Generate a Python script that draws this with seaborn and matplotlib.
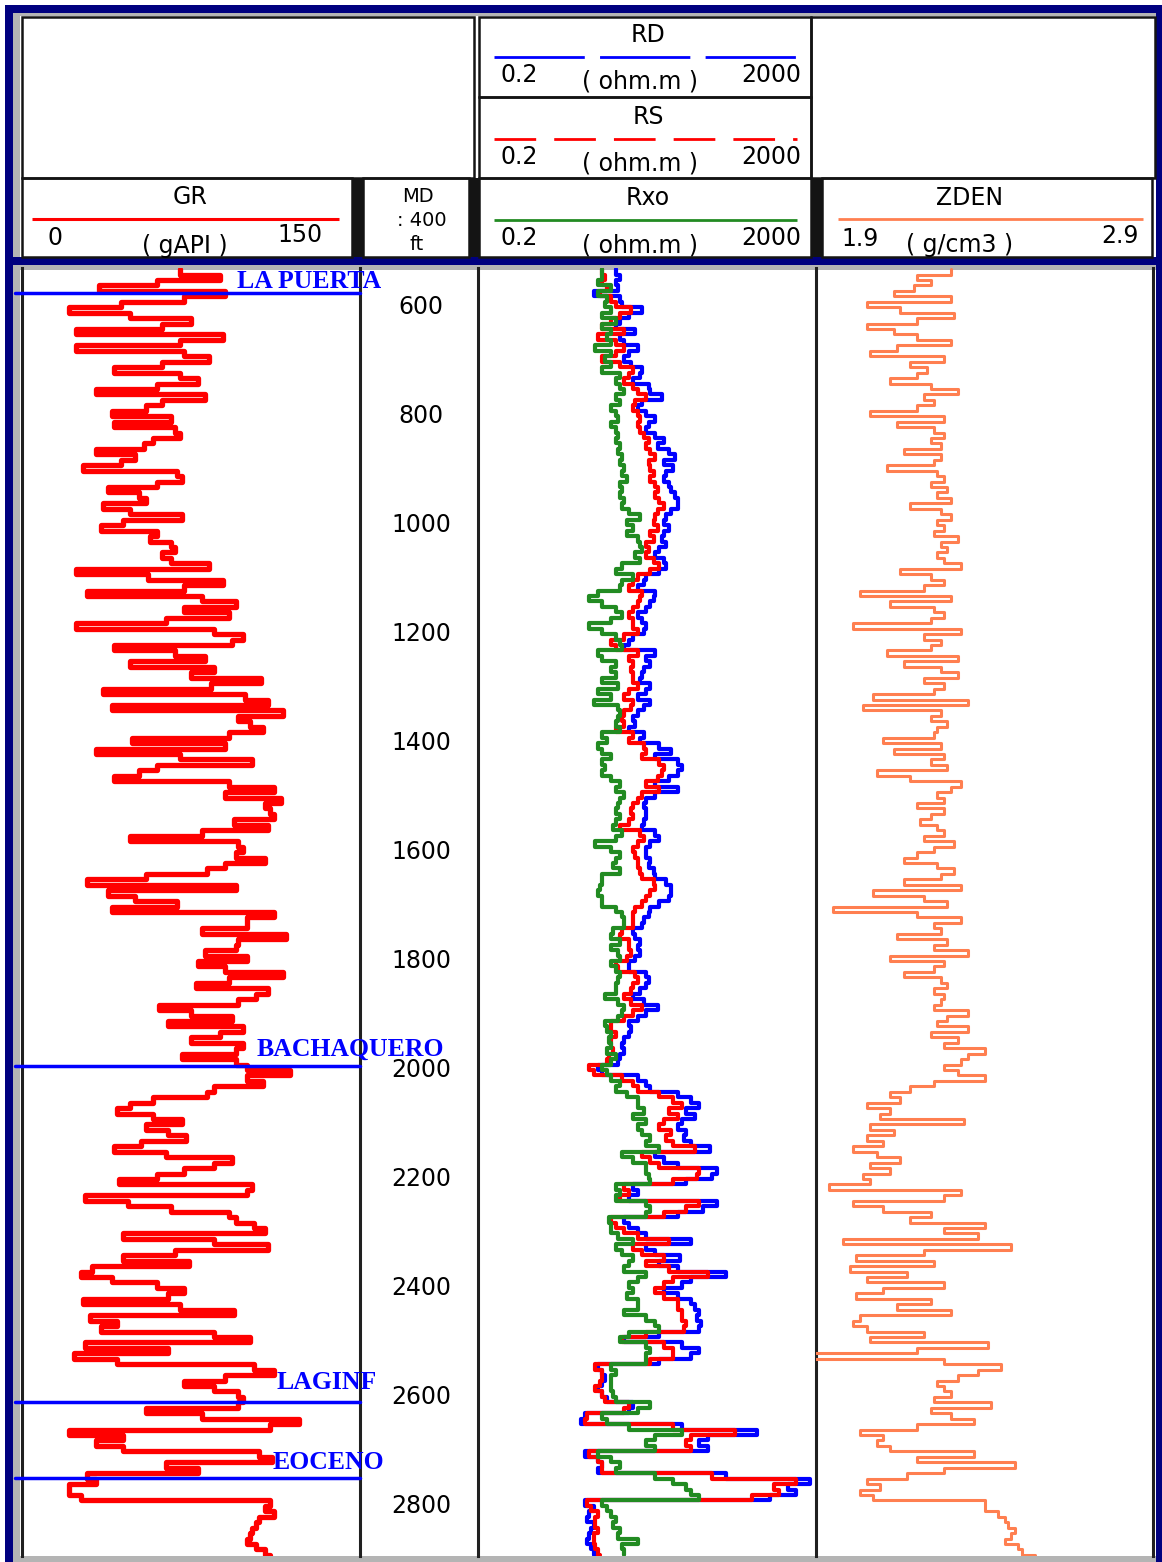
# %% Well log panel: GR, MD, RD/RS/Rxo, ZDEN with formation tops
import numpy as np
import pandas as pd
import matplotlib
matplotlib.use("Agg")
import matplotlib.pyplot as plt
import matplotlib.transforms as mtransforms
from matplotlib.patches import Rectangle
import seaborn as sns

sns.set_theme(style="white")
plt.rcParams['font.family'] = ['DejaVu Sans']
plt.rcParams['lines.scale_dashes'] = False

# %% Log data, every 10 ft from 530 ft
depth_start = 530
depth_step = 10

gr = [70, 88, 60, 34, 90, 72, 44, 21, 48, 75, 62, 24, 89, 70, 24, 72, 83, 62, 41, 70,
      78, 60, 33, 81, 62, 55, 40, 66, 41, 68, 70, 58, 54, 33, 50, 44, 27, 69, 71, 60,
      38, 52, 55, 36, 48, 71, 45,
      35, 60, 57, 66, 68, 62, 66, 83, 24, 56, 89, 72, 29, 80, 95, 72, 92, 64, 24, 85,
      98, 93, 41, 68, 81, 48, 85, 75, 106, 84, 36, 99, 109, 40, 116, 96, 101, 107, 92, 49,
      90, 33, 70, 102, 60, 52, 41, 92,
      112, 90, 115, 108, 110, 112, 94, 109, 80, 48, 96, 98, 95, 108, 90, 82, 55, 29, 95, 38,
      50, 69, 40, 112, 100, 100, 80, 117, 96, 95, 81, 100, 78, 90, 116, 92, 77, 109, 104, 96,
      61, 75, 93, 65, 98, 88, 75,
      98, 95, 71, 95, 100, 119, 100, 107, 85, 82, 58, 48, 42, 58, 71, 55, 65, 73, 53, 41,
      64, 93, 85, 72, 60, 43, 102, 100, 28, 47, 66, 92, 95, 103, 108, 45, 85, 109, 68, 45,
      74, 31, 26, 40, 60, 72, 65, 27,
      70, 94, 30, 42, 35, 85, 101, 28, 65, 23, 42, 103, 112, 90, 72, 85, 96, 98, 96, 55,
      80, 123, 110, 21, 45, 33, 45, 105, 111, 64, 78, 29, 33, 21, 21, 26, 110, 108, 112, 105,
      104, 102, 101, 100, 104, 108, 110]

rd = [8.5, 9.6, 8.5, 9.0, 4.7, 9.6, 10.2, 17.5, 12.2, 9.6, 8.5, 14.6, 9.6, 10.8, 15.5, 12.2,
      10.8, 13, 17.5, 16.5, 13.8, 21, 22, 30, 17.5, 15.5, 19.7, 25, 21, 19.7, 25, 32, 27, 36,
      43, 32, 41, 34, 32, 36, 38, 43, 46, 46, 38, 34, 32,
      36, 32, 30, 34, 28, 25, 32, 34, 28, 19.7, 18.6, 15.5, 25, 24, 22, 19.7, 15.5, 17.5, 19.7,
      18.6, 13.8, 12.2, 10.8, 25, 19.7, 22, 18.6, 17.5, 16.5, 22, 19.7, 15.5, 22, 18.6, 15.5,
      13.8, 14.6, 12.2, 18.6, 16.5, 28, 38, 25, 46, 52, 46, 36, 25,
      46, 25, 19.7, 18.6, 19.7, 19.7, 18.6, 17.5, 25, 28, 22, 19.7, 19.7, 22, 21, 24, 25, 34,
      38, 38, 36, 28, 22, 21, 18.6, 17.5, 13.8, 14.6, 16.5, 15.5, 16.5, 14.6, 12.2, 12.2, 19.7,
      21, 19.7, 16.5, 13.8, 18.6, 27, 19.7, 15.5, 12.2, 13, 12.2, 10.8,
      10.2, 10.8, 9.6, 9.0, 5.2, 5.9, 15.5, 19.7, 22, 46, 66, 83, 58, 74, 52, 46, 58, 55, 66,
      112, 25, 32, 46, 135, 119, 58, 13.8, 15.5, 12.2, 135, 93, 46, 10.8, 12.2, 15.5, 19.7, 66,
      19.7, 25, 49, 28, 46, 172, 66, 52, 32, 46, 66,
      74, 83, 78, 88, 83, 28, 10.8, 52, 83, 66, 28, 5.2, 5.9, 6.3, 5.9, 5.2, 5.9, 6.7, 13.8,
      12.2, 3.7, 3.3, 52, 398, 106, 83, 106, 3.7, 5.2, 5.9, 5.2, 172, 1690, 920, 1170, 570,
      3.7, 4.7, 4.1, 3.9, 4.7, 4.4, 4.1, 3.9, 4.4, 4.7, 4.9]

rs = [5.9, 6.3, 5.9, 6.7, 5.6, 7.5, 8.5, 13, 9.6, 7.5, 5.9, 10.8, 5.2, 8.5, 10.8, 8.5, 5.9,
      9.6, 13.8, 12.2, 10.8, 13.8, 15.5, 19.7, 14.6, 13.8, 15.5, 16.5, 15.5, 16.5, 18.6, 21,
      19.7, 22, 25, 21, 22, 24, 22, 25, 27, 25, 28, 32, 27, 25, 24,
      27, 22, 24, 19.7, 21, 19.7, 24, 28, 22, 15.5, 13.8, 12.2, 17.5, 16.5, 15.5, 13.8, 12.2,
      13.8, 13.8, 15.5, 10.8, 7.5, 8.5, 15.5, 12.2, 13.8, 13, 13.8, 13.8, 15.5, 12.2, 10.8,
      13.8, 13, 10.8, 10.2, 10.8, 8.5, 13.8, 12.2, 18.6, 19.7, 17.5, 28, 32, 30, 27, 19.7,
      28, 17.5, 15.5, 13.8, 13, 13.8, 12.2, 9.6, 16.5, 18.6, 15.5, 13.8, 14.6, 15.5, 15.5,
      16.5, 17.5, 24, 25, 22, 19.7, 17.5, 14.6, 13.8, 13.8, 13.8, 10.2, 9.6, 12.2, 12.2, 13,
      11.5, 8.5, 9.0, 14.6, 15.5, 13.8, 13, 10.8, 13, 17.5, 13.8, 10.8, 7.5, 7.5, 8.5, 7.5,
      7.5, 8.0, 7.1, 6.7, 4.1, 4.7, 10.2, 13.8, 15.5, 28, 41, 52, 36, 46, 32, 28, 38, 34, 41,
      74, 17.5, 22, 28, 83, 78, 41, 10.8, 12.2, 9.6, 83, 58, 32, 7.5, 8.5, 10.8, 15.5, 36,
      13.8, 17.5, 32, 19.7, 36, 106, 41, 32, 25, 32, 46,
      46, 52, 52, 58, 55, 19.7, 10.2, 32, 41, 41, 22, 4.9, 5.9, 5.9, 5.6, 4.9, 5.9, 6.3, 12.2,
      10.8, 3.9, 3.7, 41, 218, 66, 58, 66, 4.1, 5.2, 5.9, 5.9, 119, 1170, 640, 725, 350,
      3.9, 4.4, 5.2, 4.9, 4.9, 5.2, 4.7, 4.7, 4.9, 5.2, 5.6]

rxo = [5.9, 5.9, 5.2, 7.5, 5.2, 6.7, 6.3, 7.5, 5.9, 8.5, 5.9, 7.5, 6.7, 7.5, 4.9, 7.5, 6.3,
       7.5, 5.9, 9.6, 8.5, 9.6, 10.8, 8.5, 9.6, 7.5, 8.5, 9.0, 7.5, 8.5, 9.0, 8.5, 9.6, 9.0,
       10.2, 9.6, 10.8, 10.2, 11.5, 9.6, 10.2, 9.6, 10.8, 10.2, 12.2, 16.5, 11.5,
       13.8, 11.5, 15.5, 16.5, 17.5, 14.6, 16.5, 10.2, 8.5, 13.8, 10.2, 9.6, 5.2, 4.1, 5.9,
       8.5, 10.2, 7.5, 4.1, 5.9, 8.5, 9.6, 10.2, 5.2, 5.9, 8.5, 7.5, 8.5, 5.9, 9.0, 5.2, 7.5,
       4.7, 9.0, 9.6, 9.0, 8.5, 9.6, 5.9, 6.7, 5.2, 5.9, 7.5, 5.9, 6.3, 5.9, 7.5, 9.6,
       8.5, 10.8, 9.6, 9.0, 8.5, 9.6, 8.5, 8.0, 10.2, 8.5, 4.9, 7.5, 9.6, 8.5, 8.0, 9.6, 5.9,
       5.9, 5.6, 5.2, 5.9, 5.9, 8.5, 10.2, 10.8, 10.8, 8.0, 7.5, 9.6, 7.5, 9.0, 9.6, 7.5, 8.5,
       9.6, 9.0, 8.5, 8.5, 6.3, 9.0, 10.8, 10.2, 9.0, 6.3, 6.7, 7.5, 7.1,
       7.5, 6.7, 8.5, 7.5, 5.9, 6.7, 7.5, 9.6, 8.5, 11.5, 15.5, 15.5, 18.6, 13.8, 19.7, 15.5,
       17.5, 22, 19.7, 28, 10.2, 13.8, 19.7, 19.7, 21, 22, 8.5, 9.6, 8.5, 19.7, 22, 19.7, 7.1,
       7.5, 7.5, 9.0, 13.8, 8.5, 10.2, 13.8, 12.2, 10.8, 19.7, 15.5, 12.2, 13.8, 11.5, 15.5,
       15.5, 10.8, 19.7, 25, 28, 12.2, 9.6, 19.7, 22, 19.7, 19.7, 7.5, 8.5, 7.5, 7.5, 7.5,
       8.0, 8.5, 22, 15.5, 5.9, 6.7, 12.2, 52, 25, 19.7, 25, 5.2, 7.5, 9.6, 8.5, 25, 41, 58,
       66, 83, 5.9, 6.7, 7.5, 8.5, 8.0, 9.6, 9.0, 15.5, 10.2, 10.8, 10.8]

zden = [2.30, 2.20, 2.24, 2.19, 2.13, 2.30, 2.05, 2.15, 2.31, 2.20, 2.05, 2.13, 2.20, 2.30,
        2.14, 2.06, 2.28, 2.18, 2.23, 2.20, 2.12, 2.24, 2.32, 2.22, 2.25, 2.20, 2.06, 2.28,
        2.14, 2.25, 2.28, 2.24, 2.27, 2.16, 2.27, 2.25, 2.11, 2.26, 2.28, 2.24, 2.29, 2.26,
        2.30, 2.18, 2.27, 2.30, 2.26,
        2.28, 2.25, 2.32, 2.27, 2.29, 2.26, 2.28, 2.33, 2.15, 2.24, 2.28, 2.22, 2.03, 2.30,
        2.12, 2.25, 2.28, 2.24, 2.01, 2.33, 2.22, 2.27, 2.24, 2.11, 2.32, 2.16, 2.27, 2.32,
        2.22, 2.28, 2.25, 2.07, 2.35, 2.04, 2.27, 2.24, 2.29, 2.26, 2.25, 2.10, 2.27, 2.13,
        2.28, 2.24, 2.29, 2.08, 2.18, 2.33,
        2.30, 2.26, 2.28, 2.20, 2.28, 2.24, 2.21, 2.26, 2.28, 2.22, 2.31, 2.25, 2.20, 2.16,
        2.26, 2.31, 2.27, 2.16, 2.33, 2.07, 2.22, 2.29, 1.95, 2.20, 2.33, 2.25, 2.27, 2.14,
        2.29, 2.25, 2.35, 2.12, 2.28, 2.25, 2.16, 2.27, 2.29, 2.25, 2.28, 2.27, 2.25, 2.35,
        2.29, 2.26, 2.35, 2.24, 2.32,
        2.28, 2.40, 2.35, 2.33, 2.28, 2.32, 2.40, 2.25, 2.18, 2.12, 2.15, 2.05, 2.12, 2.09,
        2.34, 2.06, 2.13, 2.05, 2.10, 2.01, 2.08, 2.15, 2.06, 2.12, 2.04, 2.06, 1.94, 2.33,
        2.28, 2.01, 2.10, 2.24, 2.18, 2.40, 2.28, 2.38, 1.98, 2.48, 2.22, 2.02, 2.25, 2.00,
        2.17, 2.05, 2.28, 2.10, 2.02, 2.24,
        2.14, 2.30, 2.03, 2.01, 2.05, 2.22, 2.06, 2.41, 2.20, 1.88, 2.28, 2.45, 2.38, 2.32,
        2.26, 2.28, 2.30, 2.25, 2.42, 2.24, 2.30, 2.37, 2.20, 2.03, 2.10, 2.08, 2.12, 2.37,
        2.20, 2.49, 2.28, 2.17, 2.05, 2.09, 2.03, 2.07, 2.40, 2.40, 2.44, 2.46, 2.47, 2.49,
        2.48, 2.46, 2.50, 2.51, 2.55]

depth_ticks = [600, 800, 1000, 1200, 1400, 1600, 1800, 2000, 2200, 2400, 2600, 2800]
top_names = ['LA PUERTA', 'BACHAQUERO', 'LAGINF', 'EOCENO']
top_depths = [574, 1993, 2609, 2749]

logs = pd.DataFrame({'GR': gr, 'RD': rd, 'RS': rs, 'RXO': rxo, 'ZDEN': zden})
logs['DEPTH'] = depth_start + depth_step * np.arange(len(logs))

# %% Figure and pixel helpers
W, H = 1162, 1562
fig = plt.figure(figsize=(W / 100, H / 100), dpi=100, facecolor='white')

def px_box(x0, y0, x1, y1):
    return [x0 / W, 1 - y1 / H, (x1 - x0) / W, (y1 - y0) / H]

ax_bg = fig.add_axes([0, 0, 1, 1], zorder=0)
ax_bg.set_xlim(0, W)
ax_bg.set_ylim(H, 0)
ax_bg.axis('off')

NAVY = '#00007f'
GREY = '#b4b4b4'
EDGE = '#141414'

def rect(x0, y0, x1, y1, fc='none', ec='none', lw=0, z=1):
    ax_bg.add_patch(Rectangle((x0, y0), x1 - x0, y1 - y0, facecolor=fc,
                              edgecolor=ec, linewidth=lw, zorder=z))

def htext(x, y, s, size=17, ha='center'):
    ax_bg.text(x, y, s, fontsize=size, ha=ha, va='center', color='black', zorder=5)

# frame
rect(13, 13, 1156, 16, fc=GREY)
rect(13, 13, 20, 1562, fc=GREY)
rect(13, 265, 1156, 270, fc=GREY)
rect(13, 1556, 1156, 1562, fc=GREY)
rect(5, 5, 13, 1562, fc=NAVY)
rect(5, 5, 1162, 13, fc=NAVY)
rect(1156, 5, 1162, 1562, fc=NAVY)
rect(5, 257, 1162, 265, fc=NAVY)

# header boxes
rect(22, 17, 474, 178, ec=EDGE, lw=1.8)
rect(22, 178, 352, 257, ec=EDGE, lw=1.8)
rect(352, 178, 363, 257, fc=EDGE)
rect(363, 178, 469, 257, ec=EDGE, lw=1.8)
rect(469, 178, 480, 257, fc=EDGE)
rect(479, 17, 811, 97, ec=EDGE, lw=1.8)
rect(479, 97, 811, 178, ec=EDGE, lw=1.8)
rect(479, 178, 811, 257, ec=EDGE, lw=1.8)
rect(811, 178, 822, 257, fc=EDGE)
rect(811, 17, 1155, 178, ec=EDGE, lw=1.8)
rect(822, 178, 1152, 257, ec=EDGE, lw=1.8)

# GR header
htext(190, 197, 'GR')
ax_bg.plot([32, 339], [219, 219], color='red', lw=2.2, solid_capstyle='butt')
htext(55, 238, '0')
htext(185, 246, '( gAPI )')
htext(300, 235, '150')

# MD header
htext(418, 197, 'MD', size=14)
htext(422, 220, ': 400', size=14)
htext(417, 245, 'ft', size=14)

# resistivity headers
for yt, name, color, dash in [(35, 'RD', 'blue', (0, (65, 11))),
                              (117, 'RS', 'red', (0, (30, 13))),
                              (198, 'Rxo', '#228B22', '-')]:
    htext(648, yt, name)
    ax_bg.plot([494, 797], [yt + 22, yt + 22], color=color, lw=2.0, linestyle=dash,
               solid_capstyle='butt', dash_capstyle='butt')
    htext(500, yt + 40, '0.2', ha='left')
    htext(640, yt + 47, '( ohm.m )')
    htext(801, yt + 40, '2000', ha='right')

# ZDEN header
htext(970, 198, 'ZDEN')
ax_bg.plot([838, 1143], [219, 219], color='#ff7f50', lw=2.0, solid_capstyle='butt')
htext(841, 239, '1.9', ha='left')
htext(960, 245, '( g/cm3 )')
htext(1139, 236, '2.9', ha='right')

# %% Tracks
y_top, y_bot = 268, 1556
ax_gr = fig.add_axes(px_box(22, y_top, 360, y_bot), zorder=1)
ax_md = fig.add_axes(px_box(360, y_top, 478, y_bot), zorder=2)
ax_res = fig.add_axes(px_box(478, y_top, 816, y_bot), zorder=3)
ax_z = fig.add_axes(px_box(816, y_top, 1153, y_bot), zorder=4)

depth_lim = (2892, 528)

def draw_curve(ax, col, color, lw):
    sns.lineplot(data=logs, x=col, y='DEPTH', orient='y', sort=False, estimator=None,
                 color=color, linewidth=lw, drawstyle='steps-pre', ax=ax, legend=False)

draw_curve(ax_gr, 'GR', '#ff0000', 3.8)
ax_gr.set_xlim(0, 150)

ax_res.set_xscale('log')
draw_curve(ax_res, 'RD', '#0000ff', 3.0)
draw_curve(ax_res, 'RS', '#ff0000', 3.0)
draw_curve(ax_res, 'RXO', '#228B22', 3.0)
ax_res.set_xlim(0.2, 2000)

draw_curve(ax_z, 'ZDEN', '#ff7f50', 2.2)
ax_z.set_xlim(1.9, 2.9)

ax_md.set_xlim(0, 1)

for ax in [ax_gr, ax_md, ax_res, ax_z]:
    ax.set_ylim(*depth_lim)
    ax.set_facecolor('none')
    ax.set_xlabel('')
    ax.set_ylabel('')
    ax.set_xticks([])
    ax.set_yticks([])
    ax.minorticks_off()
    for side in ['top', 'bottom', 'left', 'right']:
        ax.spines[side].set_visible(False)

for ax, sides in [(ax_gr, ['left', 'right']), (ax_res, ['left', 'right']), (ax_z, ['right'])]:
    for side in sides:
        ax.spines[side].set_visible(True)
        ax.spines[side].set_color('#202020')
        ax.spines[side].set_linewidth(2.2)

# depth labels
md_trans = mtransforms.blended_transform_factory(ax_md.transAxes, ax_md.transData)
for d in depth_ticks:
    ax_md.text(0.52, d, str(d), transform=md_trans, ha='center', va='center',
               fontsize=17, color='black')

# formation tops
gr_trans = mtransforms.blended_transform_factory(ax_gr.transAxes, ax_gr.transData)
label_x = [0.636, 0.695, 0.754, 0.74]
label_dy = [0, 10, 14, 8]
for name, d, lx, dy in zip(top_names, top_depths, label_x, label_dy):
    ax_gr.plot([-0.021, 1.0], [d, d], transform=gr_trans, color='#0000ff', lw=2.5,
               clip_on=False, zorder=5)
    ax_gr.text(lx, d - dy, name, transform=gr_trans, ha='left', va='bottom',
               fontsize=18.5, fontweight='bold', color='#0000ff',
               family=['Liberation Serif', 'DejaVu Serif'], clip_on=False, zorder=6)

fig.savefig('out.png', dpi=100, facecolor='white')
